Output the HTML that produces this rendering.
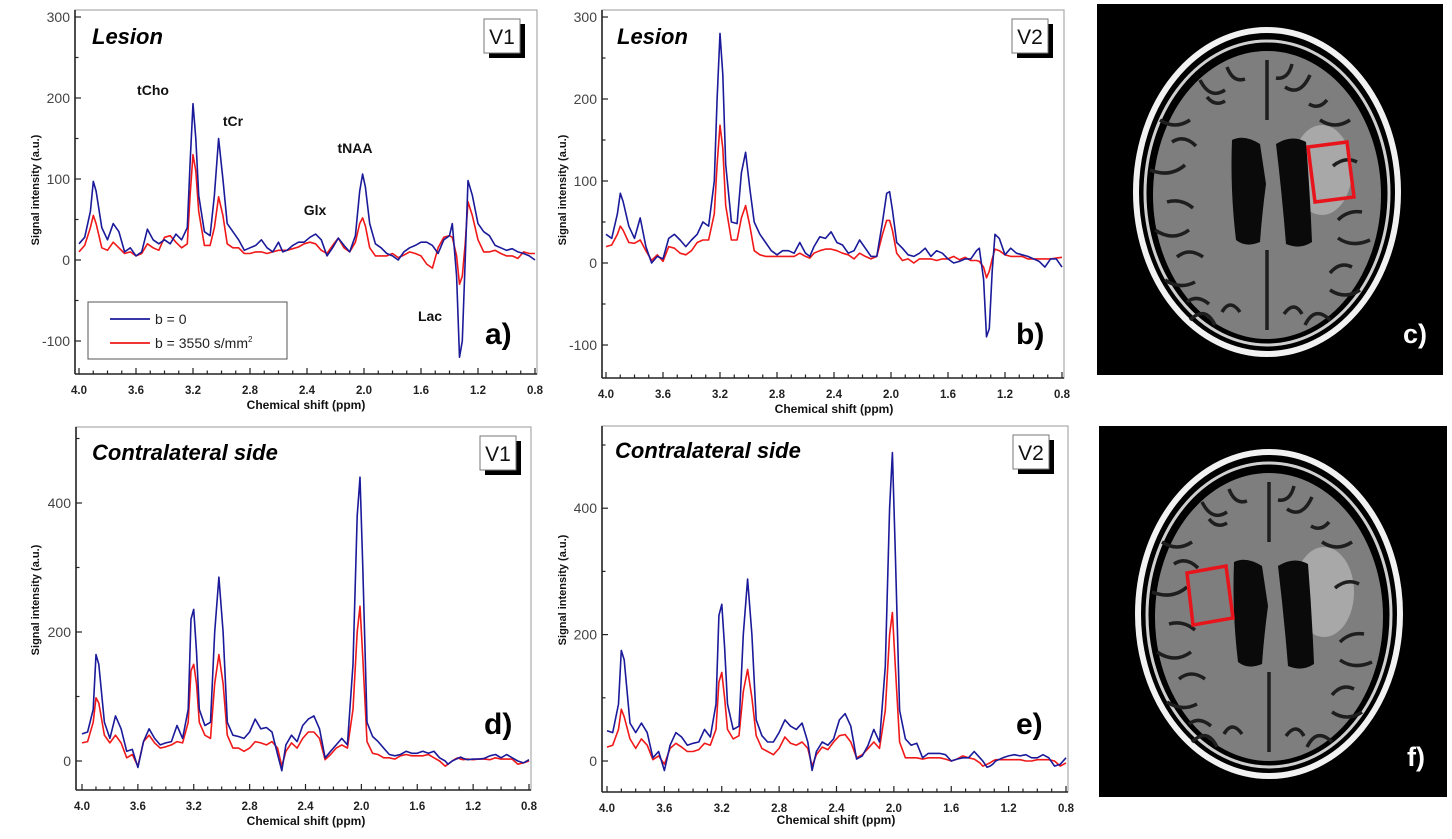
<!DOCTYPE html>
<html><head><meta charset="utf-8"><style>
html,body{margin:0;padding:0;background:#fff;}
svg{display:block;font-family:"Liberation Sans",Arial,sans-serif;}
</style></head><body>
<svg id="fig" width="1452" height="839" viewBox="0 0 1452 839" xmlns="http://www.w3.org/2000/svg">
 <defs>
  <g id="sulci">
   <path d="M-107 -72 q15 10 30 0 M-117 -22 q20 8 35 -5 M-112 38 q18 12 34 0 M-102 88 q15 10 30 2 M83 -72 q-15 10 -30 0 M103 48 q-18 8 -32 -2 M93 98 q-15 10 -30 0 M-67 -112 q10 20 25 10 M43 -117 q-10 22 -25 12 M0 -132 L0 -72 M0 58 L0 138 M-77 128 q15 -15 25 5 M63 128 q-15 -15 -25 5 M-95 -50 q12 -8 24 4 M-100 10 q14 -4 26 6 M-90 65 q12 -10 26 0 M-80 110 q10 -8 22 2 M90 -30 q-12 -6 -24 4 M95 20 q-14 -2 -24 8 M85 75 q-12 -6 -22 6 M-40 -125 q6 16 18 12 M25 -128 q-4 16 -16 14 M-45 120 q8 -14 18 0 M35 122 q-8 -14 -18 0 M-60 -95 q8 10 18 4 M60 -92 q-8 10 -18 4" stroke="#1e1e1e" stroke-width="3.5" fill="none"/>
  </g>
 </defs>
 <g id="brain-c">
  <rect x="1097" y="4" width="346" height="371" fill="#000"/>
  <ellipse cx="1267" cy="192" rx="131" ry="162" fill="none" stroke="#f2f2f2" stroke-width="6"/>
  <ellipse cx="1267" cy="193" rx="122" ry="152" fill="none" stroke="#cfcfcf" stroke-width="3"/>
  <ellipse cx="1267" cy="195" rx="114" ry="144" fill="#7e7e7e"/>
  <ellipse cx="1322" cy="170" rx="30" ry="45" fill="#a8a8a8"/>
  <use href="#sulci" x="1267" y="192"/>
  <path d="M1232 140 q12 -6 28 4 l6 40 q-4 30 -6 58 q-14 6 -24 -2 q-6 -50 -4 -100z" fill="#0a0a0a"/>
  <path d="M1276 144 q16 -10 30 -2 q4 50 6 100 q-12 8 -26 2 q-4 -50 -10 -100z" fill="#0a0a0a"/>
  <path d="M1308 147 L1347 142 L1354 197 L1315 202 Z" fill="none" stroke="#e8141c" stroke-width="3.5"/>
  <text x="1403" y="343" fill="#fff" font-weight="bold" font-size="27">c)</text>
 </g>
 <g id="brain-f">
  <rect x="1099" y="426" width="348" height="371" fill="#000"/>
  <ellipse cx="1269" cy="614" rx="131" ry="162" fill="none" stroke="#f2f2f2" stroke-width="6"/>
  <ellipse cx="1269" cy="615" rx="122" ry="152" fill="none" stroke="#cfcfcf" stroke-width="3"/>
  <ellipse cx="1269" cy="617" rx="114" ry="144" fill="#7e7e7e"/>
  <ellipse cx="1324" cy="592" rx="30" ry="45" fill="#a8a8a8"/>
  <use href="#sulci" x="1269" y="614"/>
  <path d="M1234 562 q12 -6 28 4 l6 40 q-4 30 -6 58 q-14 6 -24 -2 q-6 -50 -4 -100z" fill="#0a0a0a"/>
  <path d="M1278 566 q16 -10 30 -2 q4 50 6 100 q-12 8 -26 2 q-4 -50 -10 -100z" fill="#0a0a0a"/>
  <path d="M1187 573 L1226 566 L1233 618 L1193 625 Z" fill="none" stroke="#e8141c" stroke-width="3.5"/>
  <text x="1407" y="766" fill="#fff" font-weight="bold" font-size="27">f)</text>
 </g>
</svg>
<script>
const ppm = [4.00,3.96,3.92,3.90,3.88,3.84,3.80,3.76,3.72,3.68,3.64,3.60,3.56,3.52,3.48,3.44,3.40,3.36,3.32,3.28,3.24,3.22,3.20,3.18,3.16,3.12,3.08,3.05,3.02,2.99,2.96,2.92,2.88,2.84,2.80,2.76,2.72,2.68,2.64,2.60,2.57,2.54,2.50,2.46,2.42,2.38,2.34,2.30,2.26,2.22,2.18,2.14,2.10,2.06,2.03,2.01,1.99,1.96,1.92,1.88,1.84,1.80,1.76,1.72,1.68,1.64,1.60,1.56,1.52,1.48,1.44,1.40,1.38,1.35,1.33,1.31,1.29,1.27,1.24,1.20,1.16,1.12,1.08,1.04,1.00,0.96,0.92,0.88,0.84,0.80];
const blueA = [20,28,60,97,85,40,25,45,35,10, 15,5,10,38,25,20,25,20,32,25, 40,120,193,150,80,35,30,80,150,100, 45,35,25,12,15,18,25,15,10,22, 10,12,18,22,22,28,32,25,5,15, 27,18,10,30,85,106,90,45,20,15, 8,5,0,10,15,18,22,22,18,8, 25,30,45,-20,-120,-100,0,98,80,45, 35,30,18,15,12,14,10,8,5,0];
const redA = [10,18,40,55,45,15,12,22,15,8, 10,5,8,20,15,12,28,30,22,15, 20,80,130,110,60,18,18,40,78,55, 20,15,15,8,8,10,10,8,10,12, 12,12,14,16,20,22,20,12,8,18, 27,15,10,22,45,52,42,15,5,5, 5,8,3,6,10,8,5,-5,-10,15, 28,30,28,5,-30,-20,20,72,55,25, 10,10,12,8,5,5,2,10,8,8];
const blueB = [35,30,60,85,75,45,30,55,20,0, 8,5,30,35,28,20,28,35,50,45, 100,200,280,230,120,50,48,110,135,90, 50,35,25,15,10,15,15,12,25,12, 8,20,32,30,38,25,22,12,15,28, 18,8,8,50,85,87,65,25,18,10, 8,12,18,8,15,12,5,0,2,5, 5,15,18,-20,-90,-80,-10,35,30,10, 18,12,10,8,5,2,-5,5,5,-5];
const redB = [20,22,35,45,40,25,24,28,15,3, 10,2,20,18,12,10,15,25,28,28, 60,120,168,140,70,28,28,55,70,45, 15,10,8,8,8,8,8,8,12,8, 6,12,15,17,17,15,12,10,5,12, 8,5,8,35,52,52,40,12,3,5, 0,5,5,5,3,5,5,8,4,7, 3,3,2,-5,-18,-10,5,17,15,10, 8,8,8,5,5,5,5,5,6,7];
const blueD = [42,45,80,165,150,60,35,70,50,15, 18,-10,30,50,35,25,28,30,55,35, 80,220,235,170,80,55,60,200,285,200, 60,40,38,35,45,65,50,52,45,10, -15,25,40,30,55,65,70,50,5,15, 25,35,25,150,380,440,300,60,38,30, 20,10,8,10,15,12,12,15,12,15, 5,0,-5,0,2,4,6,4,2,3, 3,4,8,10,5,10,5,0,-3,2];
const redD = [28,30,60,98,90,40,28,40,28,5, 10,-8,30,40,28,20,22,25,30,28, 60,140,150,120,60,40,35,120,165,120, 40,20,20,15,20,30,28,25,30,20, -8,15,28,20,35,45,45,35,2,10, 20,25,20,80,200,240,160,30,12,10, 5,5,3,8,10,8,8,8,10,5, 0,-8,-5,0,3,5,3,2,3,2, 3,3,2,5,3,3,3,-5,-3,0];
const blueE = [48,45,90,175,160,60,45,60,45,5, 15,-15,25,45,38,25,28,30,50,38, 90,230,248,180,90,50,55,200,288,200, 65,40,30,30,45,65,55,50,60,30, -15,15,30,25,35,65,75,55,3,8, 25,50,30,150,400,488,330,80,35,25, 28,5,12,12,12,10,0,3,5,5, 15,5,0,-10,-8,-5,0,2,5,8, 10,8,10,5,5,10,5,-8,-5,5];
const redE = [22,25,50,82,70,35,20,35,25,2, 8,-5,20,28,22,15,15,18,28,25, 50,125,140,100,50,35,40,110,145,100, 40,20,15,10,20,38,28,25,30,20, -8,10,22,18,30,40,42,30,5,10, 20,30,20,80,200,235,150,30,5,5, 5,3,5,5,5,3,0,3,8,5, 3,-3,-8,-5,-3,0,2,2,2,2, 2,2,0,0,2,2,2,0,-8,-3,5];
const xTickLabels = ["4.0","3.6","3.2","2.8","2.4","2.0","1.6","1.2","0.8"];
const yTicksLesion = [-100,0,100,200,300];
const yTicksContra = [0,200,400];

const NS="http://www.w3.org/2000/svg";
const svg=document.getElementById('fig');
function mk(tag,attrs,parent){const e=document.createElementNS(NS,tag);for(const k in attrs)e.setAttribute(k,attrs[k]);(parent||svg).appendChild(e);return e;}

function panel(cfg){
  const g=mk('g',{});
  
  
  const xs=p=>cfg.x4+(4.0-p)/3.2*(cfg.x08-cfg.x4);
  const ys=v=>cfg.y0-v*cfg.k;
  const fr=mk('rect',{x:cfg.L,y:cfg.T,width:cfg.R-cfg.L,height:cfg.B-cfg.T,fill:'none',stroke:'#999','stroke-width':1},g);
  
  
  mk('line',{x1:cfg.L,y1:cfg.T,x2:cfg.L,y2:cfg.B,stroke:'#222','stroke-width':1.6},g);
  mk('line',{x1:cfg.L,y1:cfg.B,x2:cfg.R,y2:cfg.B,stroke:'#222','stroke-width':1.6},g);
  for(let i=0;i<=32;i++){
    const p=4.0-i*0.1, x=xs(p), major=i%4===0;
    mk('line',{x1:x,y1:cfg.B,x2:x,y2:cfg.B-(major?6:3.5),stroke:'#222','stroke-width':1.2},g);
  }
  xTickLabels.forEach((lab,i)=>{
    const t=mk('text',{x:xs(parseFloat(lab)),y:cfg.B+20,'text-anchor':'middle','font-size':11.5,'font-weight':'bold',fill:'#222'},g);
    t.textContent=lab;
    
    
  });
  const ticks=cfg.yt, step=ticks[1]-ticks[0];
  for(let v=ticks[0]-step;v<=ticks[ticks.length-1]+step;v+=step/2){
    const y=ys(v); if(y<cfg.T+1||y>cfg.B-1) continue;
    const major=ticks.includes(v);
    mk('line',{x1:cfg.L,y1:y,x2:cfg.L+(major?6:3.5),y2:y,stroke:'#222','stroke-width':1.2},g);
  }
  ticks.forEach(v=>{
    const t=mk('text',{x:cfg.L-5,y:ys(v)+5,'text-anchor':'end','font-size':14,fill:'#444'},g);
    t.textContent=String(v);
    
    
  });
  const yt=mk('text',{x:0,y:0,transform:`translate(${cfg.yl[0]},${cfg.yl[1]}) rotate(-90)`,'text-anchor':'middle','font-size':11,'font-weight':'bold',fill:'#111'},g);
  yt.textContent='Signal intensity (a.u.)';
  
  
  const xt=mk('text',{x:cfg.xl[0],y:cfg.xl[1],'text-anchor':'middle','font-size':12,'font-weight':'bold',fill:'#111'},g);
  xt.textContent='Chemical shift (ppm)';
  
  
  [[cfg.red,'#f01818','series-b3550'],[cfg.blue,'#1a1a9a','series-b0']].forEach(([vals,col,nm])=>{
    let d='';
    vals.forEach((v,i)=>{d+=(i?'L':'M')+xs(ppm[i]).toFixed(1)+' '+ys(v).toFixed(1);});
    const pth=mk('path',{d:d,fill:'none',stroke:col,'stroke-width':1.6,'stroke-linejoin':'round'},g);
    
    
  });
  const ti=mk('text',{x:cfg.tt[0],y:cfg.tt[1],'font-size':22,'font-weight':'bold','font-style':'italic',fill:'#000'},g);
  ti.textContent=cfg.title;
  
  
  const [vx,vy]=cfg.vb;
  mk('rect',{x:vx+5,y:vy+5,width:36,height:34,fill:'#000'},g);
  const vr=mk('rect',{x:vx,y:vy,width:36,height:34,fill:'#fff',stroke:'#777','stroke-width':1},g);
  
  
  const vt=mk('text',{x:vx+18,y:vy+25,'text-anchor':'middle','font-size':21,fill:'#111'},g);
  vt.textContent=cfg.v;
  const pl=mk('text',{x:cfg.pl[0],y:cfg.pl[1],'font-size':30,'font-weight':'bold',fill:'#000'},g);
  pl.textContent=cfg.letter;
  
  
  return g;
}

const gA=panel({name:'chart-a-lesion-v1',L:75,R:537,T:10,B:374,x4:79,x08:535,y0:260,k:0.81,yt:yTicksLesion,blue:blueA,red:redA,title:'Lesion',tt:[92,44],v:'V1',vb:[484,19],letter:'a)',pl:[485,344],yl:[39,190],xl:[306,409]});
const gB=panel({name:'chart-b-lesion-v2',L:602,R:1064,T:10,B:378,x4:606,x08:1062,y0:263,k:0.82,yt:yTicksLesion,blue:blueB,red:redB,title:'Lesion',tt:[617,44],v:'V2',vb:[1012,19],letter:'b)',pl:[1016,344],yl:[566,190],xl:[834,413]});
const gD=panel({name:'chart-d-contralateral-v1',L:76,R:531,T:427,B:790,x4:82,x08:529,y0:761,k:0.645,yt:yTicksContra,blue:blueD,red:redD,title:'Contralateral side',tt:[92,460],v:'V1',vb:[480,436],letter:'d)',pl:[484,734],yl:[39,600],xl:[306,825]});
const gE=panel({name:'chart-e-contralateral-v2',L:602,R:1068,T:426,B:792,x4:607,x08:1066,y0:761,k:0.632,yt:yTicksContra,blue:blueE,red:redE,title:'Contralateral side',tt:[615,458],v:'V2',vb:[1013,435],letter:'e)',pl:[1016,734],yl:[566,590],xl:[836,824]});

[['tCho',153,95],['tCr',233,126],['tNAA',355,153],['Glx',315,215],['Lac',430,321]].forEach(([s,x,y])=>{
  const t=mk('text',{x:x,y:y,'text-anchor':'middle','font-size':14,'font-weight':'bold',fill:'#111'},gA);
  t.textContent=s;
  
  
});
const lg=mk('g',{},gA);


mk('rect',{x:88,y:302,width:199,height:57,fill:'#fff',stroke:'#555','stroke-width':1},lg);
mk('line',{x1:110,y1:319,x2:150,y2:319,stroke:'#1a1a9a','stroke-width':1.8},lg);
mk('line',{x1:110,y1:343,x2:150,y2:343,stroke:'#f01818','stroke-width':1.8},lg);
const l1=mk('text',{x:155,y:324,'font-size':14,fill:'#222'},lg);
l1.textContent='b = 0';


const l2=mk('text',{x:155,y:348,'font-size':14,fill:'#222'},lg);
l2.innerHTML='b = 3550 s/mm<tspan dy="-6" font-size="8">2</tspan>';


</script>
</body></html>
